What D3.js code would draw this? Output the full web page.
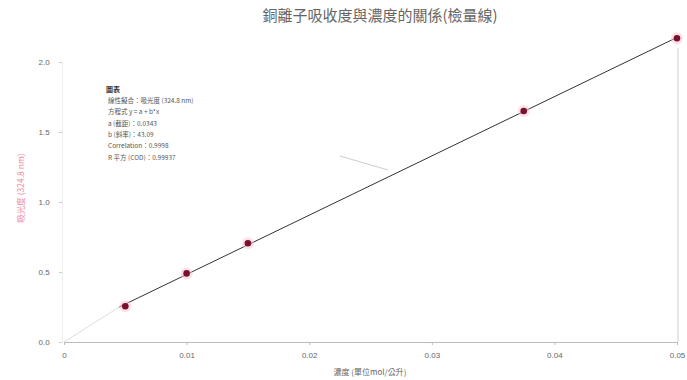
<!DOCTYPE html>
<html>
<head>
<meta charset="utf-8">
<script src="https://cdn.jsdelivr.net/npm/d3@7"></script>
<style>
  html, body { margin: 0; padding: 0; background: #fff; }
  svg { display: block; font-family: "Noto Sans CJK TC", "Noto Sans", sans-serif; }
</style>
</head>
<body>
<svg id="chart" width="687" height="380"></svg>
<script>
// Calibration data: Cu2+ concentration (mol/L) vs absorbance at 324.8 nm
const concentration = [0.005, 0.01, 0.015, 0.0375, 0.05];
const absorbance = [0.255, 0.49, 0.705, 1.65, 2.17];
const xTicks = [0, 0.01, 0.02, 0.03, 0.04, 0.05];
const xTickLabels = ["0", "0.01", "0.02", "0.03", "0.04", "0.05"];
const yTicks = [0, 0.5, 1.0, 1.5, 2.0];
const yTickLabels = ["0.0", "0.5", "1.0", "1.5", "2.0"];
const fitRange = [0.0045, 0.05];
const legendLines = [
  "線性擬合：吸光度 (324.8 nm)",
  "方程式 y = a + b*x",
  "a (截距)：0.0343",
  "b (斜率)：43.09",
  "Correlation：0.9998",
  "R 平方 (COD)：0.99937"
];

const svg = d3.select("#chart");
const x = d3.scaleLinear().domain([0, 0.05]).range([64, 677]);
const y = d3.scaleLinear().domain([0, 2.0]).range([342, 62]);

// Least squares fit drawn from the data
const n = concentration.length;
const mx = d3.mean(concentration), my = d3.mean(absorbance);
let sxy = 0, sxx = 0;
for (let i = 0; i < n; i++) {
  sxy += (concentration[i] - mx) * (absorbance[i] - my);
  sxx += (concentration[i] - mx) ** 2;
}
const slope = sxy / sxx, intercept = my - slope * mx;

// Title
svg.append("text").attr("x", 380).attr("y", 21).attr("text-anchor", "middle")
  .attr("font-size", 15).attr("fill", "#666").text("銅離子吸收度與濃度的關係(檢量線)");

// Bottom axis
const xAxis = svg.append("g").attr("transform", "translate(0,342)")
  .call(d3.axisBottom(x).tickValues(xTicks).tickFormat((d, i) => xTickLabels[i]).tickSize(3));
xAxis.select(".domain").attr("stroke", "#bbb");
xAxis.selectAll(".tick line").attr("stroke", "#bbb");
xAxis.selectAll("text").attr("font-size", 8).attr("fill", "#666").attr("y", 10).attr("dy", "0.71em");

// Left axis
const yAxis = svg.append("g").attr("transform", "translate(62,0)")
  .call(d3.axisLeft(y).tickValues(yTicks).tickFormat((d, i) => yTickLabels[i]).tickSize(3));
yAxis.select(".domain").attr("stroke", "#eee");
yAxis.selectAll(".tick line").attr("stroke", "#ccc");
yAxis.selectAll("text").attr("font-size", 8).attr("fill", "#666").attr("dx", "-0.8em");

// Right frame line
svg.append("line").attr("x1", x(0.05) + 1).attr("x2", x(0.05) + 1)
  .attr("y1", y(2.1)).attr("y2", y(0)).attr("stroke", "#ccc");

// Axis titles
svg.append("text").attr("transform", "translate(24,188) rotate(-90)")
  .attr("text-anchor", "middle").attr("font-size", 8.5).attr("fill", "#f08aa8")
  .text("吸光度 (324.8 nm)");
svg.append("text").attr("x", 370).attr("y", 375).attr("text-anchor", "middle")
  .attr("font-size", 8).attr("fill", "#666").text("濃度 (單位mol/公升)");

// Faint extension of the fit toward the origin
svg.append("line").attr("x1", x(0)).attr("y1", y(0))
  .attr("x2", x(fitRange[0])).attr("y2", y(intercept + slope * fitRange[0]))
  .attr("stroke", "#ddd").attr("stroke-width", 1);

// Fit line
const line = d3.line().x(d => x(d)).y(d => y(intercept + slope * d));
svg.append("path").datum(fitRange).attr("d", line)
  .attr("fill", "none").attr("stroke", "#333").attr("stroke-width", 1);

// Leader line from the legend
svg.append("line").attr("x1", 340).attr("y1", 156).attr("x2", 388).attr("y2", 170)
  .attr("stroke", "#ccc").attr("stroke-width", 1);

// Data points
svg.append("g").selectAll("circle.halo").data(concentration).join("circle")
  .attr("cx", d => x(d)).attr("cy", (d, i) => y(absorbance[i])).attr("r", 6)
  .attr("fill", "#f7c6d4").attr("opacity", 0.5);
svg.append("g").selectAll("circle.pt").data(concentration).join("circle")
  .attr("cx", d => x(d)).attr("cy", (d, i) => y(absorbance[i])).attr("r", 3.3)
  .attr("fill", "#7a0f2e");

// Fit summary legend
const lg = svg.append("g").attr("transform", "translate(106,92)");
lg.append("text").attr("x", 0).attr("y", 0).attr("font-size", 7).attr("font-weight", "bold")
  .attr("fill", "#333").text("圖表");
lg.selectAll("text.row").data(legendLines).join("text").attr("class", "row")
  .attr("x", 2).attr("y", (d, i) => 11 + i * 11.3).attr("font-size", 6.5)
  .attr("fill", "#555").text(d => d);
</script>
</body>
</html>
